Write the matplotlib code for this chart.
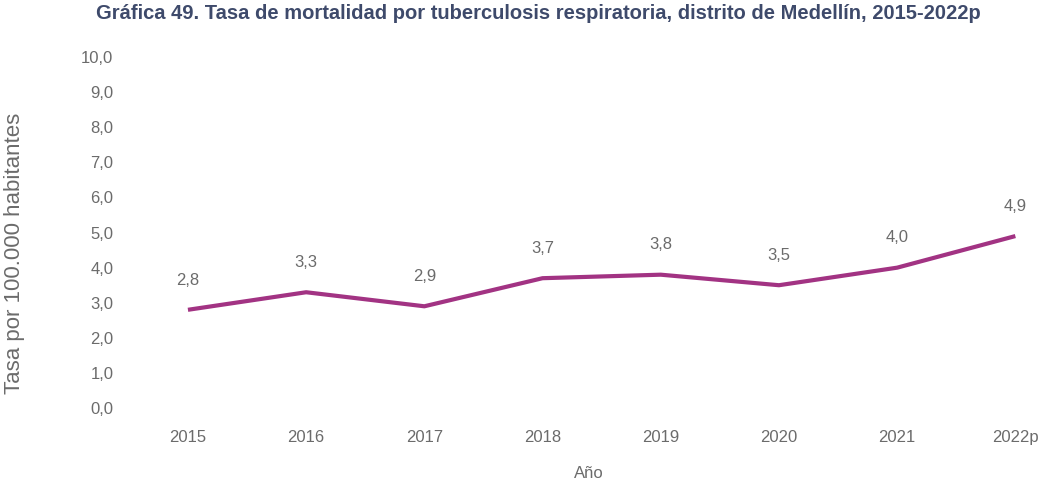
import matplotlib
matplotlib.use('Agg')
import matplotlib.pyplot as plt

# Data
years = ['2015', '2016', '2017', '2018', '2019', '2020', '2021', '2022p']
rates = [2.8, 3.3, 2.9, 3.7, 3.8, 3.5, 4.0, 4.9]
y_ticks = [0, 1, 2, 3, 4, 5, 6, 7, 8, 9, 10]

plt.rcParams['font.family'] = ['Liberation Sans', 'DejaVu Sans']
grey = '#6b6b6b'
line_color = '#a23383'

fig = plt.figure(figsize=(10.52, 4.79), dpi=100)
ax = fig.add_axes([0.1236, 0.148, 0.8764, 0.733])

x = list(range(len(years)))
ax.plot(x, rates, color=line_color, linewidth=3, solid_capstyle='butt')

# Data labels
for xi, v in zip(x, rates):
    ax.annotate(f'{v:.1f}'.replace('.', ','), (xi, v), xytext=(0, 16),
                textcoords='offset points', ha='center', va='bottom',
                fontsize=12, color=grey)

ax.set_xlim(-0.49, 7.31)
ax.set_ylim(0, 10)
ax.set_xticks(x)
ax.set_xticklabels(years)
ax.set_yticks(y_ticks)
ax.set_yticklabels([f'{t:.1f}'.replace('.', ',') for t in y_ticks])
ax.tick_params(axis='both', length=0, labelsize=12, labelcolor=grey)
ax.tick_params(axis='y', pad=12)
ax.tick_params(axis='x', pad=16)

for s in ax.spines.values():
    s.set_visible(False)

ax.set_xlabel('Año', fontsize=12, color=grey)
ax.xaxis.set_label_coords(0.498, -0.165)
ax.set_ylabel('Tasa por 100.000 habitantes', fontsize=16, color=grey)
ax.yaxis.set_label_coords(-0.114, 0.44)

fig.text(0.512, 0.972, 'Gráfica 49. Tasa de mortalidad por tuberculosis respiratoria, distrito de Medellín, 2015-2022p',
         ha='center', va='center', fontsize=14.5, fontweight='bold', color='#3e4a6b')

fig.savefig('out.png', dpi=100)
